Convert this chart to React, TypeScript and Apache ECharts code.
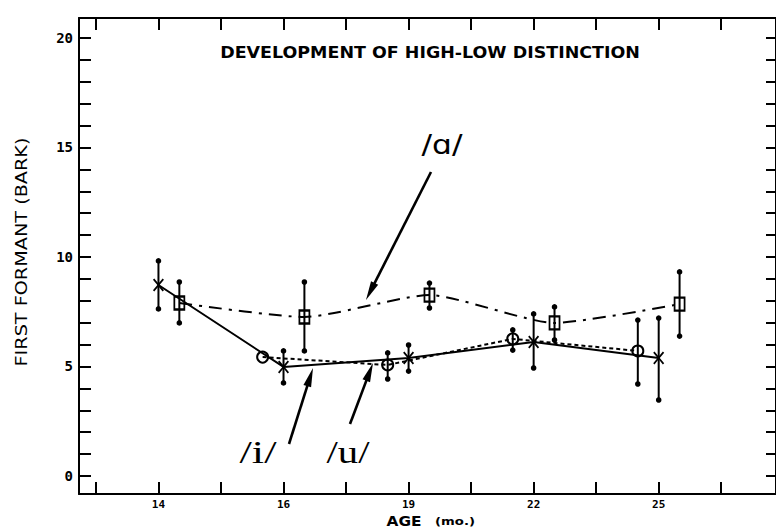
import React, { useEffect, useRef } from "react";
import * as echarts from "echarts";

// Ages (months) at which the three vowels were sampled
const AGE_LABELS = ["14", "16", "19", "22", "25"];

// First formant (Bark): mean and spread per age, one set per vowel
const I_MEAN = [8.72, 4.98, 5.39, 6.12, 5.39];
const I_LOW = [7.63, 4.25, 4.79, 4.93, 3.47];
const I_HIGH = [9.82, 5.71, 5.98, 7.4, 7.21];

const U_MEAN = [null, 5.43, 5.07, 6.26, 5.71];
const U_LOW = [null, null, 4.43, 5.75, 4.2];
const U_HIGH = [null, null, 5.62, 6.67, 7.12];

const A_MEAN = [7.9, 7.26, 8.26, 6.99, 7.85];
const A_LOW = [6.99, 5.71, 7.67, 6.21, 6.39];
const A_HIGH = [8.86, 8.86, 8.81, 7.72, 9.32];

const Y_TICK_LABELS = [0, 5, 10, 15, 20];

// Axis layout: ages sit on every other tick, vowels are staggered around them
const X_MIN = -0.2707;
const X_MAX = 10.876;
const Y_MIN = -0.822;
const Y_MAX = 20.913;
const U_SHIFT = -0.334;
const A_SHIFT = 0.334;
const slotOf = (i: number) => 2 * i + 1;

const INK = "#000";

function points(means: (number | null)[], shift: number) {
  const out: number[][] = [];
  means.forEach((v, i) => {
    if (v != null) out.push([slotOf(i) + shift, v]);
  });
  return out;
}

function bars(low: (number | null)[], high: (number | null)[], shift: number) {
  const out: number[][] = [];
  low.forEach((lo, i) => {
    const hi = high[i];
    if (lo != null && hi != null) out.push([slotOf(i) + shift, lo, hi]);
  });
  return out;
}

function measure(text: string, font: string) {
  const ctx = document.createElement("canvas").getContext("2d");
  if (!ctx) return 1;
  ctx.font = font;
  return ctx.measureText(text).width || 1;
}

// Text stretched along its baseline to a given width
function fitText(
  text: string,
  font: string,
  cx: number,
  cy: number,
  width: number,
  rotation = 0,
  scaleY = 1
) {
  return {
    type: "text",
    x: cx,
    y: cy,
    rotation,
    scaleX: width / measure(text, font),
    scaleY,
    style: {
      text,
      font,
      fill: INK,
      textAlign: "center",
      textVerticalAlign: "middle",
    },
  };
}

function arrow(x1: number, y1: number, x2: number, y2: number, headLen = 19, headW = 8) {
  const dx = x2 - x1;
  const dy = y2 - y1;
  const L = Math.hypot(dx, dy);
  const ux = dx / L;
  const uy = dy / L;
  const bx = x2 - ux * headLen;
  const by = y2 - uy * headLen;
  const px = -uy;
  const py = ux;
  return [
    {
      type: "line",
      shape: { x1, y1, x2: bx + ux * 2, y2: by + uy * 2 },
      style: { stroke: INK, lineWidth: 2.6 },
    },
    {
      type: "polygon",
      shape: {
        points: [
          [x2, y2],
          [bx + (px * headW) / 2, by + (py * headW) / 2],
          [bx - (px * headW) / 2, by - (py * headW) / 2],
        ],
      },
      style: { fill: INK },
    },
  ];
}

const X_SYMBOL =
  "path://M1.2,0 L5,4.7 L8.8,0 L10,1.1 L6,6 L10,10.9 L8.8,12 L5,7.3 L1.2,12 L0,10.9 L4,6 L0,1.1 Z";

function errorBarSeries(data: number[][]) {
  return {
    type: "custom",
    data,
    z: 3,
    renderItem: (_params: any, api: any) => {
      const x = api.value(0);
      const lo = api.coord([x, api.value(1)]);
      const hi = api.coord([x, api.value(2)]);
      return {
        type: "group",
        children: [
          {
            type: "line",
            shape: { x1: lo[0], y1: lo[1], x2: hi[0], y2: hi[1] },
            style: { stroke: INK, lineWidth: 2 },
          },
          { type: "circle", shape: { cx: lo[0], cy: lo[1], r: 2.8 }, style: { fill: INK } },
          { type: "circle", shape: { cx: hi[0], cy: hi[1], r: 2.8 }, style: { fill: INK } },
        ],
      };
    },
  };
}

const xTicks = Array.from({ length: 11 }, (_, k) => k);
const yTicks = Array.from({ length: 21 }, (_, k) => k);

export default function App() {
  const ref = useRef<HTMLDivElement>(null);

  useEffect(() => {
    document.body.style.margin = "0";
    if (!ref.current) return;
    const chart = echarts.init(ref.current, undefined, { renderer: "svg" });

    const axisLine = { show: true, onZero: false, lineStyle: { color: INK, width: 2 } };
    const xAxisBase = {
      type: "value",
      min: X_MIN,
      max: X_MAX,
      axisLine,
      splitLine: { show: false },
      axisTick: {
        show: true,
        inside: true,
        length: 12,
        customValues: xTicks,
        lineStyle: { color: INK, width: 2 },
      },
    };
    const yAxisBase = {
      type: "value",
      min: Y_MIN,
      max: Y_MAX,
      axisLine,
      splitLine: { show: false },
      axisTick: {
        show: true,
        inside: true,
        length: 12,
        customValues: yTicks,
        lineStyle: { color: INK, width: 2 },
      },
    };

    const option: any = {
      animation: false,
      backgroundColor: "#fff",
      grid: { left: 79, top: 18, width: 700, height: 476 },
      xAxis: [
        {
          ...xAxisBase,
          position: "bottom",
          axisLabel: {
            show: true,
            customValues: AGE_LABELS.map((_, i) => slotOf(i)),
            formatter: (v: number) => AGE_LABELS[(Math.round(v) - 1) / 2] ?? "",
            margin: 5,
            color: INK,
            fontFamily: "DejaVu Sans Mono",
            fontWeight: "bold",
            fontSize: 11,
          },
        },
        {
          ...xAxisBase,
          position: "top",
          axisLabel: { show: false },
        },
      ],
      yAxis: [
        {
          ...yAxisBase,
          position: "left",
          axisLabel: {
            show: true,
            customValues: Y_TICK_LABELS,
            margin: 6,
            color: INK,
            fontFamily: "DejaVu Sans Mono",
            fontWeight: "bold",
            fontSize: 14,
          },
        },
        {
          ...yAxisBase,
          position: "right",
          axisLabel: { show: false },
          axisTick: { ...yAxisBase.axisTick, length: 10 },
        },
      ],
      series: [
        errorBarSeries(bars(I_LOW, I_HIGH, 0)),
        errorBarSeries(bars(U_LOW, U_HIGH, U_SHIFT)),
        errorBarSeries(bars(A_LOW, A_HIGH, A_SHIFT)),
        {
          name: "/i/",
          type: "line",
          data: points(I_MEAN, 0),
          z: 4,
          symbol: X_SYMBOL,
          symbolSize: [11, 13],
          itemStyle: { color: INK },
          lineStyle: { color: INK, width: 2 },
        },
        {
          name: "/u/",
          type: "line",
          data: points(U_MEAN, U_SHIFT),
          z: 4,
          symbol: "circle",
          symbolSize: 11,
          itemStyle: { color: "rgba(0,0,0,0)", borderColor: INK, borderWidth: 2 },
          lineStyle: { color: INK, width: 2, type: [4, 3] },
        },
        {
          name: "/ɑ/",
          type: "line",
          data: points(A_MEAN, A_SHIFT),
          z: 4,
          smooth: 0.2,
          symbol: "rect",
          symbolSize: [10, 13],
          itemStyle: { color: "rgba(0,0,0,0)", borderColor: INK, borderWidth: 2 },
          lineStyle: { color: INK, width: 2, type: [13, 7, 3, 7] },
        },
      ],
      graphic: [
        fitText("DEVELOPMENT OF HIGH-LOW DISTINCTION", 'bold 15px "DejaVu Sans"', 430, 53, 420),
        fitText("FIRST FORMANT (BARK)", '15px "DejaVu Sans"', 22, 252, 229, Math.PI / 2),
        fitText("AGE", 'bold 14px "DejaVu Sans"', 404, 521, 35),
        fitText("(mo.)", 'bold 10px "DejaVu Sans"', 455, 522, 40),
        fitText("/ɑ/", '26px "DejaVu Sans"', 442, 145, 41, 0, 1.05),
        fitText("/i/", '27px "Liberation Serif"', 258, 452, 37, 0, 1.15),
        fitText("/u/", '27px "Liberation Serif"', 348, 453, 43, 0, 1.15),
        ...arrow(431, 172, 366, 300),
        ...arrow(289, 444, 313, 368),
        ...arrow(350, 424, 373, 363),
      ],
    };

    chart.setOption(option);
    return () => chart.dispose();
  }, []);

  return <div ref={ref} style={{ width: 776, height: 531 }} />;
}
